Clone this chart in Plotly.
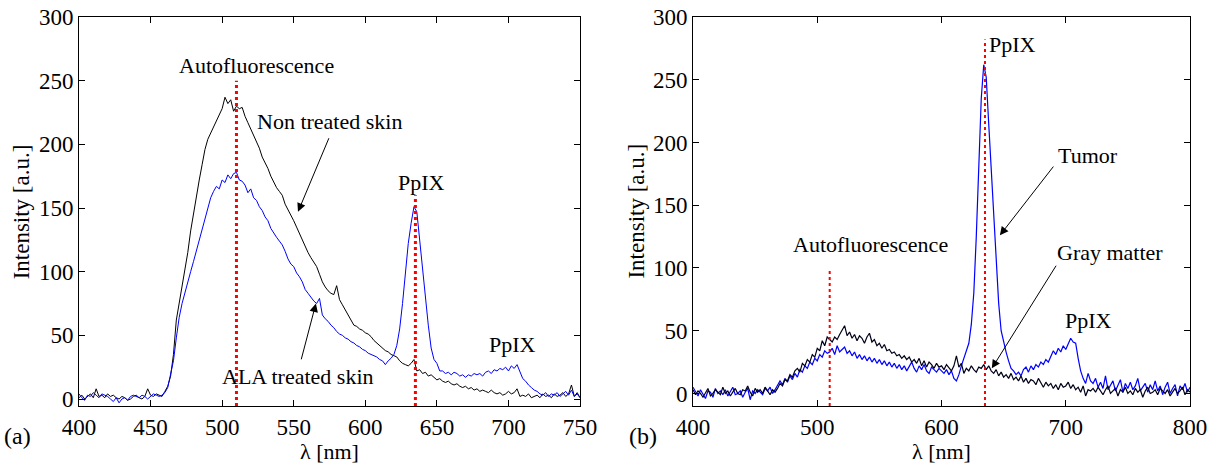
import plotly.graph_objects as go

# ---------------- data ----------------
left_wl = list(range(400, 751, 2))
left_untreated = [
    1, 3, 0, 2, 4, 1, 8, 2, 3, 1, 4, 2, 3, 1, 0, 2, 1, -1, 0, 2, 3, 1, 0, 2, 8, 3, 2, 4, 3, 2,
    6, 10, 18, 35, 62, 75, 88, 100, 115, 132, 146, 160, 172, 184, 196, 204, 209, 214, 219, 224,
    228, 237, 232, 235, 226, 230, 228, 229, 222, 217, 212, 207, 202, 197, 190, 186, 181, 175, 170, 166,
    163, 160, 153, 149, 145, 140, 135, 130, 125, 119, 115, 111, 107, 104, 98, 92, 88, 85, 83, 82,
    89, 78, 74, 70, 66, 61, 58, 57, 55, 54, 52, 51, 49, 46, 44, 42, 40, 38, 37, 35,
    34, 33, 30, 28, 27, 26, 28, 31, 22, 23, 20, 21, 18, 19, 17, 15, 16, 14, 13, 14,
    12, 11, 12, 10, 9, 10, 8, 9, 7, 8, 6, 7, 6, 5, 7, 5, 4, 5, 3, 4,
    6, 4, 5, 8, 2, 3, 2, 4, 1, 2, 3, 1, 4, 2, 3, 1, 4, 2, 3, 5, 2, 4, 11, 2, 5, 1,
]
left_ala = [
    4, 1, -1, 3, 2, 5, 3, 1, 4, 3, 2, 0, -2, 1, -3, 0, 1, -1, 2, 3, 2, 1, 3, 2, 0, 2, 4, 3, 2, 3,
    5, 9, 20, 30, 48, 64, 75, 84, 92, 100, 108, 116, 124, 132, 140, 150, 158, 163, 167, 165,
    172, 170, 176, 173, 177, 178, 172, 171, 168, 162, 165, 158, 156, 151, 148, 143, 140, 134, 130, 127,
    124, 121, 116, 110, 106, 104, 99, 96, 92, 86, 83, 80, 77, 75, 79, 66, 63, 61, 58, 56,
    53, 51, 50, 48, 47, 45, 44, 42, 41, 39, 38, 36, 35, 34, 33, 31, 30, 27, 30, 32,
    35, 42, 55, 75, 100, 122, 138, 151, 147, 125, 100, 80, 58, 40, 31, 28, 22, 22, 20, 21,
    19, 21, 20, 18, 19, 17, 19, 18, 20, 19, 20, 18, 21, 22, 20, 23, 22, 24, 23, 25,
    22, 26, 24, 27, 22, 16, 14, 11, 9, 7, 6, 4, 3, 5, 2, 4, 3, 5, 2, 4, 6, 3, 7, 2, 4, 1,
]

right_wl = list(range(400, 801, 2))
right_gray = [
    3, -1, 2, 0, -3, 1, 4, -2, 0, 3, 1, -1, 5, 0, 2, -2, 1, 4, 0, -1, 3, 2, 6, 1, -2, 4, 1, 3, 0, 5, 2, -1, 3, 1, 4,
    8, 6, 11, 10, 15, 13, 18, 20, 17, 24, 22, 27, 25, 31, 29, 36, 34, 42, 38, 45, 43,
    41, 45, 43, 47, 50, 54, 46, 49, 44, 47, 42, 46, 44, 40, 45, 48, 41, 43, 38, 40, 36, 39, 34, 35, 32,
    33, 30, 31, 28, 30, 27, 29, 25, 27, 24, 28, 22, 26, 21, 25, 23, 20, 24, 21, 22,
    19, 23, 20, 18, 22, 30, 21, 24, 16, 20, 18, 22, 19, 17, 21, 20, 23, 19, 22, 18,
    16, 19, 14, 17, 13, 15, 12, 16, 11, 13, 10, 14, 9, 12, 8, 11, 10, 7, 12, 9,
    5, 9, 6, 8, 4, 7, 3, 8, 5, 6, 9, 4, 7, 3, 5, 1, 6, -2, 3, 2,
    4, 1, 5, 2, -1, 3, 6, 0, 2, 4, -2, 3, 1, 5, 0, 2, -1, 4, 1, 3,
    -3, 2, 5, 0, 1, 3, -1, 4, 2, 0, 3, -2, 1, 4, 0, 2, 5, -1, 3, 1,
]
right_tumor = [
    5, 1, -2, 3, 0, -4, 2, 1, -3, 4, 0, 2, -1, 3, -2, 1, 5, -1, 0, 2, -3, 1, 4, -5, 2, 0, 3, 1, -1, 4, 2, 5, 0, 3, 6,
    10, 7, 12, 9, 14, 11, 16, 13, 19, 17, 22, 20, 25, 23, 28, 26, 31, 29, 34, 32, 33,
    36, 31, 38, 33, 35, 37, 32, 34, 30, 33, 28, 31, 27, 30, 26, 29, 25, 28, 24, 27, 23, 26, 22, 25, 21,
    24, 20, 23, 19, 22, 18, 21, 25, 20, 17, 22, 19, 23, 18, 16, 21, 19, 17, 20, 18,
    16, 19, 15, 18, 12, 10, 15, 22, 28, 34, 40, 55, 80, 125, 185, 235, 262, 252, 215, 180,
    145, 100, 72, 50, 40, 33, 26, 20, 18, 15, 17, 14, 19, 21, 17, 22, 19, 23, 21, 25,
    23, 27, 25, 30, 34, 31, 36, 33, 38, 35, 40, 44, 41, 40, 28, 18, 12, 8, 16, 10,
    8, 12, 5, 9, 4, 14, 3, 7, 10, 2, 6, 11, 1, 8, 4, 9, 3, 6, 12, 2,
    5, 8, 1, 7, 3, 10, 2, 6, -1, 5, 9, 0, 4, 7, -2, 6, 3, 8, 1, 5,
]

# marker lines (wavelength, top intensity)
left_marker_wl = [510, 635]
left_marker_top = [250, 160]
right_marker_wl = [510, 635]
right_marker_top = [100, 282]

left_xticks = [400, 450, 500, 550, 600, 650, 700, 750]
right_xticks = [400, 500, 600, 700, 800]
yticks = [0, 50, 100, 150, 200, 250, 300]

FONT = "Liberation Serif, Times New Roman, Tinos, serif"

fig = go.Figure()
fig.add_trace(go.Scatter(x=left_wl, y=left_untreated, xaxis="x", yaxis="y", mode="lines",
                         line=dict(color="black", width=1), showlegend=False))
fig.add_trace(go.Scatter(x=left_wl, y=left_ala, xaxis="x", yaxis="y", mode="lines",
                         line=dict(color="#0000ff", width=1), showlegend=False))
fig.add_trace(go.Scatter(x=right_wl, y=right_tumor, xaxis="x2", yaxis="y2", mode="lines",
                         line=dict(color="#0000ff", width=1.2), showlegend=False))
fig.add_trace(go.Scatter(x=right_wl, y=right_gray, xaxis="x2", yaxis="y2", mode="lines",
                         line=dict(color="#000018", width=1.2), showlegend=False))

shapes = []
for wl, top in zip(left_marker_wl, left_marker_top):
    shapes.append(dict(type="line", xref="x", yref="y", x0=wl, x1=wl, y0=-5.5, y1=top,
                       line=dict(color="red", width=3, dash="dot")))
for wl, top in zip(right_marker_wl, right_marker_top):
    shapes.append(dict(type="line", xref="x2", yref="y2", x0=wl, x1=wl, y0=-10, y1=top,
                       line=dict(color="red", width=2, dash="dot")))

ann = []
def text(x, y, s, xr, yr, angle=0, size=22):
    ann.append(dict(x=x, y=y, xref=xr, yref=yr, text=s, showarrow=False,
                    font=dict(family=FONT, size=size, color="black"), textangle=angle,
                    xanchor="center", yanchor="middle"))
def arrow(x, y, ax, ay, xr, yr):
    ann.append(dict(x=x, y=y, ax=ax, ay=ay, xref=xr, yref=yr, axref=xr, ayref=yr, text="",
                    showarrow=True, arrowhead=2, arrowsize=1.7, arrowwidth=1, arrowcolor="black"))

text(524, 262, "Autofluorescence", "x", "y")
text(575, 218, "Non treated skin", "x", "y")
text(553, 18, "ALA treated skin", "x", "y")
text(639, 170, "PpIX", "x", "y")
text(703, 43, "PpIX", "x", "y")
arrow(553, 147, 575, 206, "x", "y")
arrow(565.5, 75, 555, 30, "x", "y")

text(657, 278, "PpIX", "x2", "y2")
text(718, 190, "Tumor", "x2", "y2")
text(543, 119, "Autofluorescence", "x2", "y2")
text(736, 112, "Gray matter", "x2", "y2")
text(718, 58, "PpIX", "x2", "y2")
arrow(647, 126, 691, 182, "x2", "y2")
arrow(640.5, 20, 693, 103, "x2", "y2")

# panel labels and axis titles
text(0.014, -0.077, "(a)", "paper", "paper", size=24)
text(0.529, -0.077, "(b)", "paper", "paper", size=24)
text(0.2712, -0.117, "λ [nm]", "paper", "paper", size=22)
text(0.7749, -0.117, "λ [nm]", "paper", "paper", size=22)
text(0.018, 0.50, "Intensity [a.u.]", "paper", "paper", angle=-90, size=23)
text(0.5235, 0.50, "Intensity [a.u.]", "paper", "paper", angle=-90, size=23)

axis_common = dict(showline=True, linecolor="black", linewidth=1, mirror="ticks", ticks="inside",
                   ticklen=6, tickcolor="black", showgrid=False, zeroline=False, automargin=False,
                   tickfont=dict(family=FONT, size=23, color="black"))

fig.update_layout(
    width=1215, height=468,
    margin=dict(l=0, r=0, t=17, b=62),
    paper_bgcolor="white", plot_bgcolor="white",
    shapes=shapes, annotations=ann,
    xaxis=dict(domain=[0.065, 0.4774], range=[400, 750], tickvals=left_xticks, anchor="y", **axis_common),
    yaxis=dict(domain=[0, 1], range=[-5.5, 300], tickvals=yticks, anchor="x", **axis_common),
    xaxis2=dict(domain=[0.5704, 0.9794], range=[400, 800], tickvals=right_xticks, anchor="y2", **axis_common),
    yaxis2=dict(domain=[0, 1], range=[-10, 300], tickvals=yticks, anchor="x2", **axis_common),
)

fig.write_html("out.html", config={"displayModeBar": False},
               post_script="document.body.style.margin='0px';document.body.style.overflow='hidden';")
